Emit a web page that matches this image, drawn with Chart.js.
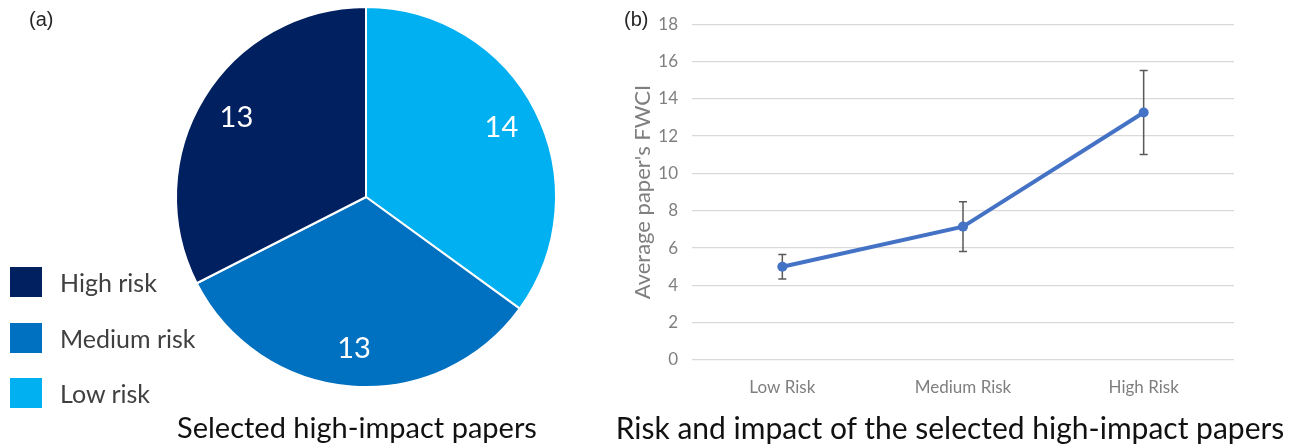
<!DOCTYPE html>
<html>
<head>
<meta charset="utf-8">
<script src="https://cdn.jsdelivr.net/npm/chart.js@4.4.1/dist/chart.umd.min.js"></script>
<style>
    body { margin: 0; width: 1290px; height: 448px; position: relative; background: #fff; overflow: hidden; font-family: Lato, sans-serif; }
    .wrap { position: absolute; top: 0; height: 448px; }
    .panel-tag { position: absolute; top: 8px; font: 20px "Liberation Sans", Arial, sans-serif; color: #262626; }
    .caption { position: absolute; top: 410px; transform: translateX(-50%); white-space: nowrap; color: #111; line-height: 34px; }
    #pie-legend { position: absolute; left: 10px; top: 267px; margin: 0; padding: 0; list-style: none; }
    #pie-legend li { height: 30px; margin-bottom: 25.5px; display: flex; align-items: center; font-size: 25px; color: #404040; }
    #pie-legend .box { width: 32px; height: 30px; margin-right: 18px; }
</style>
</head>
<body>
<div class="wrap" style="left:0; width:732px;"><canvas id="pie-chart"></canvas></div>
<div class="wrap" style="left:600px; width:690px;"><canvas id="line-chart"></canvas></div>
<ul id="pie-legend"></ul>
<div class="panel-tag" style="left:29px;">(a)</div>
<div class="panel-tag" style="left:624px;">(b)</div>
<div class="caption" style="left:357px; font-size:29px;">Selected high-impact papers</div>
<div class="caption" style="left:950px; font-size:30px;">Risk and impact of the selected high-impact papers</div>
<script>
// data, panel (a): pie, clockwise from 12 o'clock
const riskLabels = ['Low risk', 'Medium risk', 'High risk'];
const paperCounts = [14, 13, 13];
const riskColors = ['#00B0F0', '#0070C0', '#002060'];

// data, panel (b): mean FWCI with +/- error
const riskCategories = ['Low Risk', 'Medium Risk', 'High Risk'];
const fwciMean = [5.0, 7.15, 13.27];
const fwciErr = [0.66, 1.33, 2.25];
const yTicks = { min: 0, max: 18, step: 2 };

Chart.defaults.font.family = 'Lato, sans-serif';
Chart.defaults.animation = false;

// white numbers inside the slices
const sliceLabels = {
    id: 'sliceLabels',
    afterDatasetsDraw(chart) {
        const ctx = chart.ctx;
        const meta = chart.getDatasetMeta(0);
        ctx.save();
        ctx.fillStyle = '#fff'; ctx.font = '29px Lato, sans-serif';
        ctx.textAlign = 'center'; ctx.textBaseline = 'middle';
        meta.data.forEach((arc, i) => {
            const p = arc.getProps(['x', 'y', 'startAngle', 'endAngle', 'outerRadius'], true);
            const mid = (p.startAngle + p.endAngle) / 2, r = p.outerRadius * 0.8;
            ctx.fillText(chart.data.datasets[0].data[i], p.x + Math.cos(mid) * r, p.y + Math.sin(mid) * r);
        });
        ctx.restore();
    }
};

// legend built from the chart's own legend items, placed bottom-left
const htmlLegend = {
    id: 'htmlLegend',
    afterUpdate(chart) {
        const ul = document.getElementById('pie-legend');
        ul.innerHTML = '';
        const items = chart.options.plugins.legend.labels.generateLabels(chart).reverse();
        items.forEach(item => {
            const li = document.createElement('li');
            const box = document.createElement('span');
            box.className = 'box';
            box.style.background = item.fillStyle;
            li.appendChild(box);
            li.appendChild(document.createTextNode(item.text));
            ul.appendChild(li);
        });
    }
};

// vertical error bars with small caps
const errorBars = {
    id: 'errorBars',
    beforeDatasetsDraw(chart) {
        const { ctx, scales: { x, y } } = chart;
        ctx.save();
        ctx.strokeStyle = '#595959'; ctx.lineWidth = 1.5;
        fwciMean.forEach((m, i) => {
            const px = x.getPixelForValue(i);
            const top = y.getPixelForValue(m + fwciErr[i]), bot = y.getPixelForValue(m - fwciErr[i]);
            ctx.beginPath();
            ctx.moveTo(px, top); ctx.lineTo(px, bot);
            ctx.moveTo(px - 4, top); ctx.lineTo(px + 4, top);
            ctx.moveTo(px - 4, bot); ctx.lineTo(px + 4, bot);
            ctx.stroke();
        });
        ctx.restore();
    }
};

new Chart(document.getElementById('pie-chart'), {
    type: 'pie',
    data: {
        labels: riskLabels,
        datasets: [{ data: paperCounts, backgroundColor: riskColors, borderColor: '#fff', borderWidth: 2 }]
    },
    options: {
        responsive: true, maintainAspectRatio: false,
        layout: { padding: { top: 6, bottom: 60, left: 0, right: 0 } },
        plugins: { legend: { display: false }, tooltip: { enabled: false } }
    },
    plugins: [sliceLabels, htmlLegend]
});

new Chart(document.getElementById('line-chart'), {
    type: 'line',
    data: {
        labels: riskCategories,
        datasets: [{
            data: fwciMean, borderColor: '#4472C4', backgroundColor: '#4472C4',
            borderWidth: 4, pointRadius: 5, pointBorderWidth: 0, tension: 0
        }]
    },
    options: {
        responsive: true, maintainAspectRatio: false,
        layout: { padding: { top: 23, right: 56, left: 0, bottom: 0 } },
        plugins: { legend: { display: false }, tooltip: { enabled: false } },
        scales: {
            x: {
                offset: true,
                grid: { display: false, drawTicks: false },
                border: { display: false },
                ticks: { color: '#7f7f7f', font: { size: 17 }, padding: 17 },
                afterFit: s => { s.height = 88; }
            },
            y: {
                min: yTicks.min, max: yTicks.max,
                grid: { color: '#d9d9d9', lineWidth: 1.3, drawTicks: false },
                border: { display: false },
                ticks: { stepSize: yTicks.step, color: '#7f7f7f', font: { size: 17 }, padding: 14 },
                title: { display: true, text: "Average paper's FWCI", color: '#7f7f7f', font: { size: 22 }, padding: { top: 30, bottom: 0 } },
                afterFit: s => { s.width = 92; }
            }
        }
    },
    plugins: [errorBars]
});
</script>
</body>
</html>
